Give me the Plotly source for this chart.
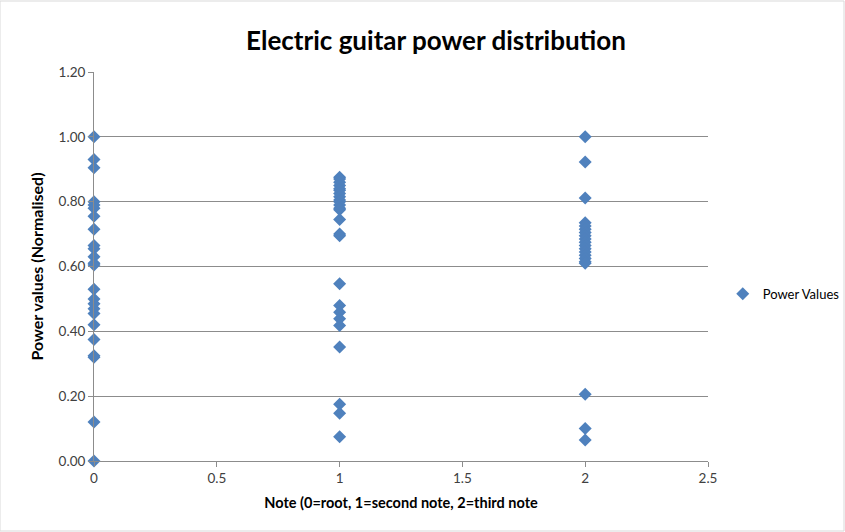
import plotly.graph_objects as go

# Normalised power values for each note of the chord
root_note = [1.00, 0.93, 0.905, 0.80, 0.79, 0.78, 0.755, 0.715, 0.665, 0.655,
             0.63, 0.61, 0.605, 0.53, 0.50, 0.485, 0.47, 0.455, 0.42, 0.375,
             0.325, 0.32, 0.12, 0.00]
second_note = [0.875, 0.87, 0.86, 0.85, 0.84, 0.835, 0.825, 0.815, 0.805, 0.80,
               0.79, 0.78, 0.775, 0.745, 0.70, 0.695, 0.547, 0.48, 0.459, 0.439,
               0.418, 0.352, 0.175, 0.147, 0.075]
third_note = [1.00, 0.922, 0.811, 0.735, 0.725, 0.715, 0.705, 0.695, 0.685, 0.675,
              0.665, 0.655, 0.645, 0.635, 0.625, 0.615, 0.61, 0.206, 0.10, 0.065]

note_index = [0] * len(root_note) + [1] * len(second_note) + [2] * len(third_note)
power = root_note + second_note + third_note

FONT = "Lato, Calibri, sans-serif"
BLUE = "#4F81BD"
GRID = "#8C8C8C"

fig = go.Figure()
fig.add_trace(go.Scatter(
    x=note_index, y=power, mode="markers", name="Power Values",
    cliponaxis=False,
    marker=dict(symbol="diamond", size=10, color=BLUE, line=dict(width=0)),
))

fig.update_layout(
    width=845, height=532,
    margin=dict(l=94, r=137, t=72, b=71, autoexpand=False),
    paper_bgcolor="white", plot_bgcolor="white",
    font=dict(family=FONT, size=13.5, color="#404040"),
    title=dict(text="<b>Electric guitar power distribution</b>",
               x=436 / 845, xanchor="center",
               y=1 - 41 / 532, yanchor="middle", yref="container",
               font=dict(family=FONT, size=26, color="#000000")),
    showlegend=True,
    legend=dict(x=1.024, xanchor="left", y=0.43, yanchor="middle",
                font=dict(family=FONT, size=13, color="#000000"),
                itemwidth=30, bgcolor="rgba(0,0,0,0)"),
    xaxis=dict(range=[0, 2.5], dtick=0.5, tickformat="~g",
               showgrid=False, zeroline=False,
               showline=True, linecolor=GRID, linewidth=1,
               ticks="outside", ticklen=5, tickcolor=GRID,
               title=dict(text="<b>Note (0=root, 1=second note, 2=third note</b>",
                          font=dict(family=FONT, size=14.5, color="#000000"),
                          standoff=12)),
    yaxis=dict(range=[0, 1.2], dtick=0.2, tickformat=".2f",
               showgrid=True, gridcolor=GRID, gridwidth=1, zeroline=False,
               showline=True, linecolor=GRID, linewidth=1,
               ticks="outside", ticklen=5, tickcolor=GRID,
               title=dict(text="<b>Power values (Normalised)</b>",
                          font=dict(family=FONT, size=16, color="#000000"),
                          standoff=11)),
)

# Thin frame around the chart area
fig.add_shape(type="rect", xref="paper", yref="paper",
              x0=-94 / 614, x1=1 + 136 / 614, y0=-70 / 389, y1=1 + 71 / 389,
              line=dict(color="#D9D9D9", width=1), fillcolor="rgba(0,0,0,0)")

fig.write_html("out.html")
